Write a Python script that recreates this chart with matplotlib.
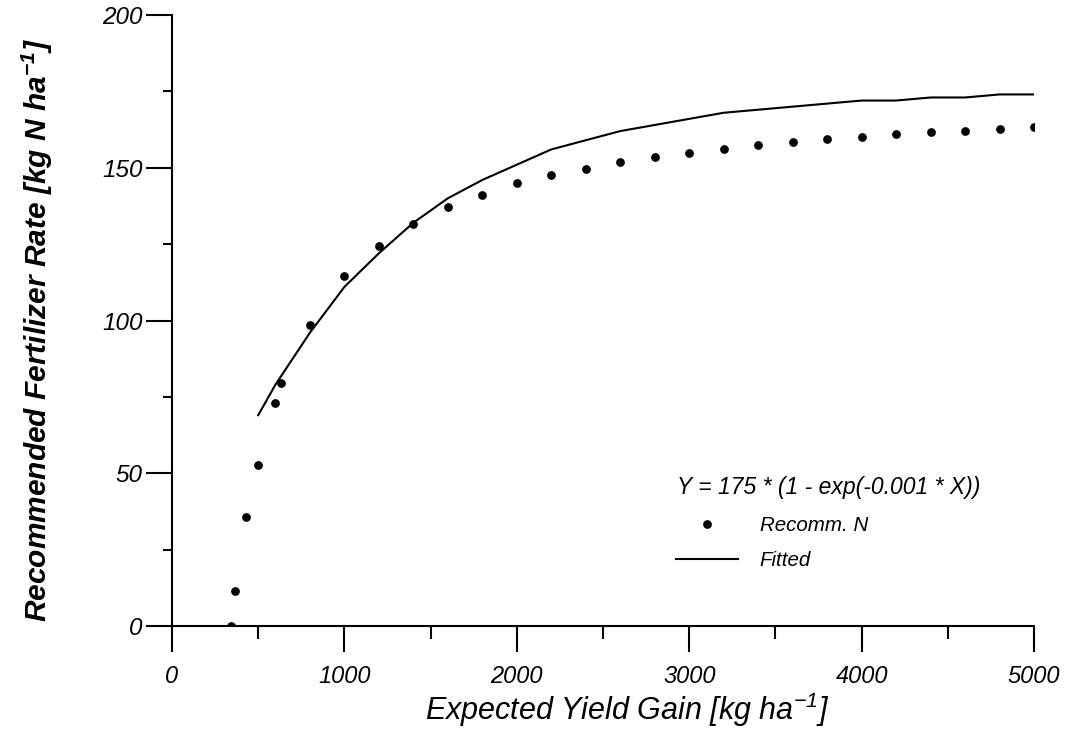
import matplotlib
matplotlib.use('Agg')
import matplotlib.pyplot as plt
from matplotlib.ticker import MultipleLocator

# ---- data ----
x_rec = [340, 365, 430, 500, 595, 630, 800, 1000, 1200, 1400, 1600, 1800, 2000,
         2200, 2400, 2600, 2800, 3000, 3200, 3400, 3600, 3800, 4000, 4200,
         4400, 4600, 4800, 5000]
y_rec = [0, 11.5, 35.7, 52.7, 73, 79.5, 98.5, 114.6, 124.4, 131.6, 137.2, 141.2,
         145.0, 147.6, 149.7, 151.8, 153.5, 154.9, 156.2, 157.4, 158.3, 159.4,
         160.1, 160.9, 161.6, 162.1, 162.7, 163.3]
x_fit = [500, 600, 800, 1000, 1200, 1400, 1600, 1800, 2000, 2200, 2400, 2600,
         2800, 3000, 3200, 3400, 3600, 3800, 4000, 4200, 4400, 4600, 4800, 5000]
y_fit = [69, 79, 96, 111, 122, 132, 140, 146, 151, 156, 159, 162, 164, 166,
         168, 169, 170, 171, 172, 172, 173, 173, 174, 174]
x_ticks = [0, 1000, 2000, 3000, 4000, 5000]
y_ticks = [0, 50, 100, 150, 200]
equation = "Y = 175 * (1 - exp(-0.001 * X))"
label_rec = "Recomm. N"
label_fit = "Fitted"
xlabel = "Expected Yield Gain [kg ha$^{-1}$]"
ylabel = "Recommended Fertilizer Rate [kg N ha$^{\\mathbf{-1}}$]"

plt.rcParams['font.family'] = ['Liberation Sans', 'DejaVu Sans']
plt.rcParams['mathtext.fontset'] = 'custom'
plt.rcParams['mathtext.rm'] = 'Liberation Sans:italic'
plt.rcParams['mathtext.it'] = 'Liberation Sans:italic'
plt.rcParams['mathtext.bf'] = 'Liberation Sans:bold:italic'

W, H = 1082, 742
fig = plt.figure(figsize=(W / 100, H / 100), dpi=100)
ax = fig.add_axes([172 / W, 1 - 626 / H, (1034 - 172) / W, (626 - 15) / H])

def ax_xy(px, py):
    return ((px - 172) / 862, (626 - py) / 611)

ax.plot(x_fit, y_fit, color='black', lw=1.5, label=label_fit, zorder=2)
ax.plot(x_rec, y_rec, 'o', color='black', ms=6.3, mew=0, label=label_rec, zorder=3)

ax.set_xlim(0, 5000)
ax.set_ylim(0, 200)
ax.set_xticks(x_ticks)
ax.set_yticks(y_ticks)
ax.xaxis.set_minor_locator(MultipleLocator(500))
ax.yaxis.set_minor_locator(MultipleLocator(25))

for s in ['top', 'right']:
    ax.spines[s].set_visible(False)
for s in ['left', 'bottom']:
    ax.spines[s].set_linewidth(1.5)

ax.tick_params(axis='x', which='major', direction='out', length=19, width=1.5,
               pad=9, labelsize=17)
ax.tick_params(axis='x', which='minor', direction='out', length=9.5, width=1.5)
ax.tick_params(axis='y', which='major', direction='out', length=19, width=1.5,
               pad=2, labelsize=17.5)
ax.tick_params(axis='y', which='minor', direction='out', length=6.5, width=1.5)
for lab in ax.get_xticklabels() + ax.get_yticklabels():
    lab.set_fontstyle('italic')

ax.set_xlabel(xlabel, fontsize=22, fontstyle='italic')
ax.xaxis.set_label_coords(*ax_xy(627, 720))
ax.xaxis.label.set_va('baseline')

ax.set_ylabel(ylabel, fontsize=21.5, fontstyle='italic', fontweight='bold')
ax.yaxis.set_label_coords(*ax_xy(37, 330))
ax.yaxis.label.set_va('center')

ax.text(*ax_xy(677, 487), equation, transform=ax.transAxes, ha='left',
        va='center', fontsize=16.5, fontstyle='italic')

leg = ax.legend(handles=[ax.lines[1], ax.lines[0]], labels=[label_rec, label_fit],
                loc='upper left', bbox_to_anchor=ax_xy(676, 516),
                frameon=False, borderpad=0, borderaxespad=0, numpoints=1,
                handlelength=3.0, handletextpad=1.07, labelspacing=0.8,
                prop={'size': 14.8, 'style': 'italic'})

fig.savefig('out.png', dpi=100)
